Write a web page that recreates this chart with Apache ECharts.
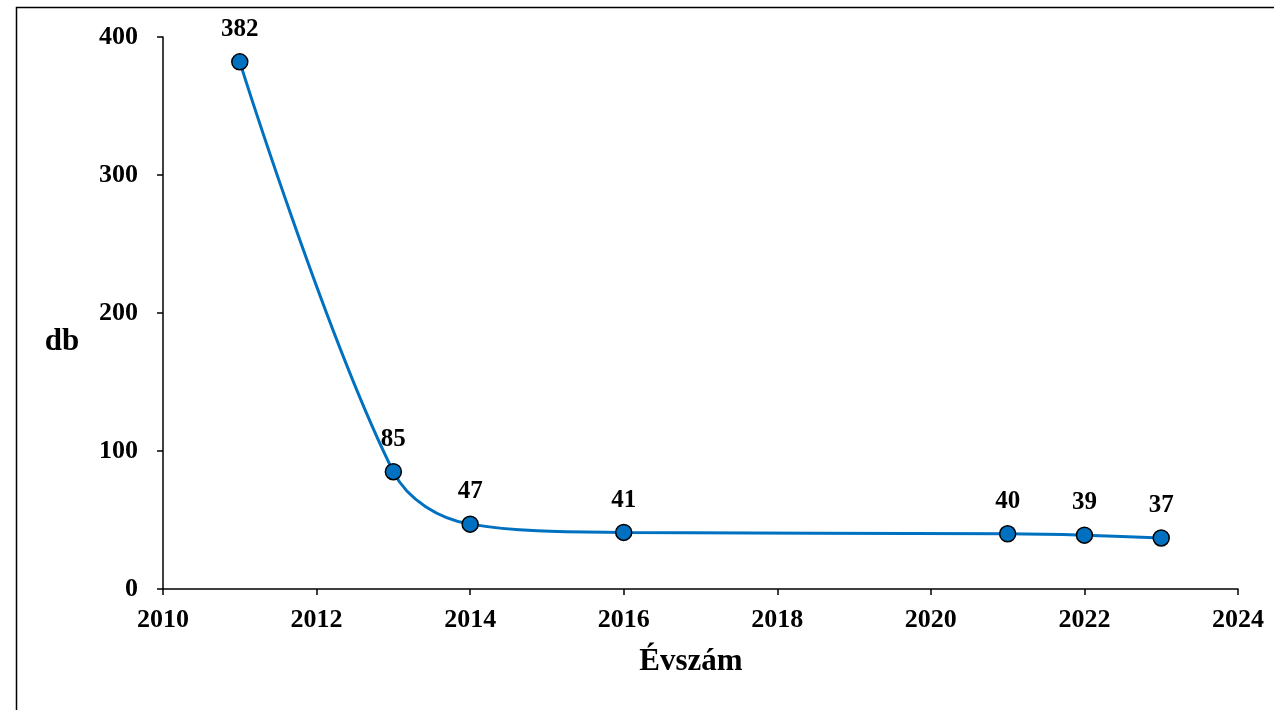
<!DOCTYPE html>
<html><head><meta charset="utf-8">
<script src="https://cdn.jsdelivr.net/npm/echarts@6/dist/echarts.min.js"></script>
<style>html,body{margin:0;padding:0;background:#fff}#c{width:1274px;height:710px}</style>
</head><body><div id="c"></div>
<script>
var years = [2011, 2013, 2014, 2016, 2021, 2022, 2023];
var counts = [382, 85, 47, 41, 40, 39, 37];
var xTitle = 'Évszám';
var yTitle = 'db';
var font = '"Liberation Serif", "Times New Roman", serif';
var chart = echarts.init(document.getElementById('c'));
chart.setOption({
  animation: false,
  backgroundColor: '#fff',
  graphic: [
    {type: 'rect', shape: {x: 16.5, y: 7.5, width: 1400, height: 900}, style: {fill: 'none', stroke: '#000', lineWidth: 1.5}, silent: true, z: -1},
    {type: 'text', x: 691, y: 662, style: {text: xTitle, font: 'bold 31px ' + font, fill: '#000', textAlign: 'center', textVerticalAlign: 'middle'}, silent: true},
    {type: 'text', x: 62, y: 342, style: {text: yTitle, font: 'bold 31px ' + font, fill: '#000', textAlign: 'center', textVerticalAlign: 'middle'}, silent: true}
  ],
  grid: {left: 163, right: 36, top: 37, bottom: 121, containLabel: false},
  xAxis: {
    type: 'value', min: 2010, max: 2024, interval: 2,
    axisLine: {lineStyle: {color: '#000', width: 1.5}},
    axisTick: {show: true, length: 6, lineStyle: {color: '#000', width: 1.5}},
    axisLabel: {fontFamily: font, fontWeight: 'bold', fontSize: 26, color: '#000', margin: 18,
      formatter: function (v) { return String(v); }},
    splitLine: {show: false}
  },
  yAxis: {
    type: 'value', min: 0, max: 400, interval: 100,
    axisLine: {show: true, lineStyle: {color: '#000', width: 1.5}},
    axisTick: {show: true, length: 6, lineStyle: {color: '#000', width: 1.5}},
    axisLabel: {fontFamily: font, fontWeight: 'bold', fontSize: 26, color: '#000', margin: 25},
    splitLine: {show: false}
  },
  series: [{
    type: 'line',
    data: years.map(function (y, i) { return [y, counts[i]]; }),
    smooth: 0.35,
    symbol: 'circle', symbolSize: 16,
    lineStyle: {color: '#0070C0', width: 3},
    itemStyle: {color: '#0070C0', borderColor: '#000', borderWidth: 1.5},
    label: {show: true, position: 'top', distance: 11, fontFamily: font, fontWeight: 'bold', fontSize: 25, color: '#000',
      formatter: function (p) { return p.value[1]; }}
  }]
});
</script></body></html>
